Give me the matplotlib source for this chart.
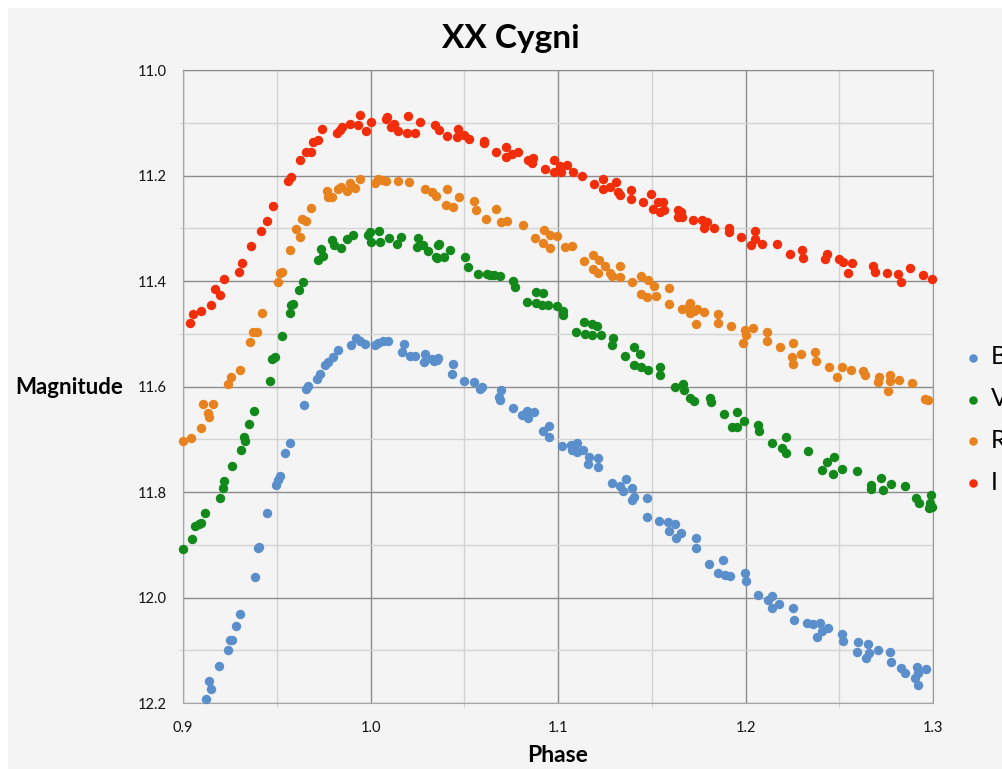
import matplotlib
matplotlib.use("Agg")
from matplotlib import pyplot as plt
from matplotlib.ticker import MultipleLocator, FormatStrFormatter
from matplotlib.patches import Rectangle

# phase / magnitude
b_phase = [0.9125, 0.9148, 0.9137, 0.919, 0.924, 0.9249, 0.9262, 0.9281, 0.9306, 0.9383,
           0.9400, 0.9406, 0.9447, 0.9495, 0.9504, 0.9516, 0.9543, 0.957, 0.9646, 0.9658,
           0.9667, 0.9712, 0.9730, 0.9756, 0.9774, 0.9801, 0.9827, 0.9898, 0.9922, 0.9943,
           0.997, 1.0023, 1.0041, 1.0068, 1.0094, 1.018, 1.0169, 1.0209, 1.0237, 1.029,
           1.0287, 1.0326, 1.0358, 1.0337, 1.0355, 1.044, 1.0434, 1.0496, 1.055, 1.0585,
           1.0594, 1.0695, 1.0683, 1.0691, 1.0762, 1.0807, 1.0837, 1.0842, 1.0872, 1.0922,
           1.0954, 1.0954, 1.1023, 1.1067, 1.1073, 1.1103, 1.1099, 1.1135, 1.1167, 1.1158,
           1.1215, 1.1216, 1.1286, 1.1330, 1.1362, 1.1348, 1.1397, 1.1404, 1.1392, 1.1477,
           1.1477, 1.1539, 1.1587, 1.1622, 1.1592, 1.1631, 1.1658, 1.1738, 1.1738, 1.1807,
           1.1879, 1.1851, 1.1892, 1.1918, 1.1998, 1.2002, 1.2069, 1.2122, 1.214, 1.214,
           1.2181, 1.2255, 1.2261, 1.2330, 1.2362, 1.2397, 1.2379, 1.2406, 1.2441, 1.2516,
           1.2518, 1.2601, 1.2592, 1.2642, 1.2654, 1.2660, 1.2704, 1.277, 1.2778, 1.2832,
           1.2853, 1.2902, 1.2917, 1.2920, 1.2920, 1.2965]
b_mag = [12.192, 12.173, 12.158, 12.130, 12.099, 12.081, 12.081, 12.054, 12.031, 11.962,
         11.907, 11.905, 11.839, 11.787, 11.777, 11.770, 11.727, 11.708, 11.636, 11.604,
         11.599, 11.586, 11.576, 11.559, 11.554, 11.544, 11.530, 11.521, 11.509, 11.513,
         11.519, 11.522, 11.517, 11.514, 11.514, 11.519, 11.534, 11.542, 11.542, 11.538,
         11.553, 11.547, 11.546, 11.551, 11.549, 11.557, 11.576, 11.589, 11.592, 11.605,
         11.600, 11.606, 11.619, 11.625, 11.640, 11.654, 11.646, 11.659, 11.649, 11.685,
         11.674, 11.695, 11.712, 11.710, 11.720, 11.708, 11.725, 11.720, 11.733, 11.747,
         11.735, 11.752, 11.782, 11.788, 11.776, 11.798, 11.792, 11.809, 11.815, 11.812,
         11.848, 11.855, 11.856, 11.861, 11.874, 11.887, 11.877, 11.888, 11.907, 11.937,
         11.929, 11.953, 11.958, 11.959, 11.954, 11.969, 11.996, 12.005, 11.997, 12.020,
         12.013, 12.020, 12.043, 12.049, 12.051, 12.049, 12.075, 12.064, 12.058, 12.070,
         12.083, 12.085, 12.103, 12.115, 12.088, 12.106, 12.100, 12.103, 12.122, 12.134,
         12.144, 12.152, 12.131, 12.144, 12.166, 12.135]

v_phase = [0.9, 0.905, 0.9062, 0.9085, 0.9098, 0.9116, 0.9196, 0.9214, 0.9219, 0.9263,
           0.9311, 0.9329, 0.9326, 0.9351, 0.9379, 0.9464, 0.9477, 0.949, 0.9529, 0.957,
           0.9578, 0.9587, 0.9617, 0.964, 0.972, 0.9735, 0.9747, 0.9792, 0.9806, 0.9841,
           0.9872, 0.9907, 0.9984, 0.9996, 1.0005, 1.0044, 1.005, 1.0098, 1.0139, 1.0162,
           1.0251, 1.0246, 1.0281, 1.0308, 1.0358, 1.0352, 1.0363, 1.0354, 1.0394, 1.0426,
           1.0505, 1.0518, 1.0571, 1.0621, 1.0635, 1.0656, 1.0688, 1.0762, 1.0771, 1.0833,
           1.0883, 1.0918, 1.0883, 1.0913, 1.0949, 1.0993, 1.1025, 1.1028, 1.1096, 1.1138,
           1.1144, 1.1179, 1.1179, 1.1209, 1.1232, 1.1291, 1.1287, 1.136, 1.1404, 1.1404,
           1.1436, 1.1445, 1.148, 1.1546, 1.1546, 1.1622, 1.1667, 1.167, 1.1706, 1.1723,
           1.1809, 1.1816, 1.1883, 1.1927, 1.1957, 1.1957, 1.1993, 1.2069, 1.2074, 1.214,
           1.2216, 1.2193, 1.2216, 1.2332, 1.2406, 1.2436, 1.2472, 1.2468, 1.2516, 1.2592,
           1.2667, 1.2667, 1.2725, 1.2734, 1.2775, 1.2849, 1.2911, 1.2926, 1.2991, 1.2986,
           1.2979, 1.2996]
v_mag = [11.908, 11.889, 11.864, 11.861, 11.858, 11.839, 11.811, 11.792, 11.779, 11.751,
         11.720, 11.703, 11.695, 11.671, 11.646, 11.589, 11.548, 11.545, 11.505, 11.460,
         11.446, 11.443, 11.418, 11.402, 11.361, 11.340, 11.353, 11.323, 11.331, 11.338,
         11.320, 11.313, 11.312, 11.307, 11.326, 11.306, 11.326, 11.318, 11.329, 11.316,
         11.318, 11.335, 11.332, 11.344, 11.331, 11.355, 11.329, 11.356, 11.354, 11.342,
         11.354, 11.373, 11.386, 11.386, 11.389, 11.388, 11.390, 11.400, 11.411, 11.439,
         11.421, 11.423, 11.441, 11.445, 11.445, 11.448, 11.456, 11.464, 11.497, 11.477,
         11.500, 11.481, 11.502, 11.486, 11.503, 11.509, 11.522, 11.543, 11.526, 11.560,
         11.539, 11.563, 11.569, 11.563, 11.579, 11.600, 11.595, 11.606, 11.622, 11.627,
         11.621, 11.630, 11.653, 11.676, 11.649, 11.676, 11.665, 11.673, 11.684, 11.708,
         11.695, 11.717, 11.727, 11.722, 11.758, 11.744, 11.733, 11.765, 11.757, 11.760,
         11.787, 11.794, 11.773, 11.796, 11.785, 11.789, 11.812, 11.820, 11.806, 11.820,
         11.830, 11.828]

r_phase = [0.9, 0.9044, 0.9094, 0.9107, 0.916, 0.9133, 0.9139, 0.924, 0.9258, 0.9306,
           0.9356, 0.9374, 0.9397, 0.9422, 0.9504, 0.9516, 0.9528, 0.957, 0.9605, 0.9623,
           0.9632, 0.9658, 0.9685, 0.977, 0.9774, 0.9792, 0.9827, 0.9845, 0.9877, 0.989,
           0.9916, 0.9943, 1.0023, 1.0041, 1.0059, 1.0085, 1.0148, 1.0205, 1.029, 1.0326,
           1.0351, 1.0408, 1.0404, 1.044, 1.047, 1.0553, 1.0564, 1.0617, 1.0668, 1.0695,
           1.073, 1.0812, 1.0878, 1.0926, 1.0922, 1.0957, 1.0957, 1.0993, 1.1037, 1.1073,
           1.1138, 1.1184, 1.1188, 1.122, 1.125, 1.1215, 1.1277, 1.1286, 1.133, 1.1333,
           1.1397, 1.1445, 1.148, 1.151, 1.1445, 1.1472, 1.1525, 1.1592, 1.1592, 1.1661,
           1.1699, 1.1702, 1.1706, 1.1723, 1.1741, 1.1777, 1.1738, 1.1853, 1.1853, 1.1922,
           1.1998, 1.2039, 1.2004, 1.1986, 1.2113, 1.2117, 1.2184, 1.2255, 1.2246, 1.2255,
           1.2294, 1.2371, 1.2376, 1.2447, 1.2486, 1.2512, 1.256, 1.2628, 1.2637, 1.2713,
           1.2707, 1.2770, 1.2773, 1.2819, 1.289, 1.2761, 1.2956, 1.2973]
r_mag = [11.703, 11.698, 11.678, 11.633, 11.633, 11.651, 11.658, 11.595, 11.582, 11.568,
         11.515, 11.497, 11.497, 11.460, 11.402, 11.384, 11.382, 11.342, 11.301, 11.316,
         11.282, 11.287, 11.261, 11.230, 11.241, 11.241, 11.226, 11.222, 11.230, 11.215,
         11.223, 11.207, 11.215, 11.207, 11.209, 11.211, 11.211, 11.212, 11.226, 11.231,
         11.239, 11.226, 11.255, 11.260, 11.241, 11.249, 11.266, 11.282, 11.263, 11.289,
         11.286, 11.294, 11.318, 11.304, 11.328, 11.313, 11.337, 11.315, 11.335, 11.334,
         11.363, 11.350, 11.377, 11.361, 11.371, 11.385, 11.385, 11.391, 11.372, 11.393,
         11.401, 11.390, 11.399, 11.410, 11.424, 11.430, 11.428, 11.413, 11.443, 11.453,
         11.447, 11.461, 11.441, 11.456, 11.454, 11.459, 11.481, 11.463, 11.480, 11.486,
         11.492, 11.490, 11.502, 11.517, 11.496, 11.514, 11.525, 11.517, 11.544, 11.557,
         11.538, 11.534, 11.551, 11.563, 11.582, 11.563, 11.568, 11.570, 11.578, 11.582,
         11.592, 11.578, 11.590, 11.587, 11.593, 11.609, 11.623, 11.625]

i_phase = [0.9036, 0.9053, 0.9098, 0.9151, 0.917, 0.9196, 0.9217, 0.9297, 0.9317, 0.9361,
           0.9415, 0.945, 0.948, 0.956, 0.9578, 0.9626, 0.9655, 0.968, 0.9694, 0.9718,
           0.9743, 0.9819, 0.9837, 0.985, 0.989, 0.9934, 0.9943, 0.9975, 1.0, 1.008,
           1.009, 1.011, 1.0128, 1.0146, 1.02, 1.0197, 1.0237, 1.0263, 1.0343, 1.0364,
           1.0408, 1.0465, 1.0461, 1.0496, 1.0523, 1.0603, 1.0606, 1.067, 1.0723, 1.0723,
           1.0753, 1.0785, 1.0842, 1.0865, 1.086, 1.0931, 1.0979, 1.0979, 1.1011, 1.1014,
           1.1046, 1.1078, 1.1128, 1.1193, 1.1241, 1.1241, 1.1277, 1.1307, 1.1321, 1.133,
           1.1387, 1.1387, 1.1454, 1.1498, 1.1504, 1.1534, 1.1543, 1.156, 1.1565, 1.164,
           1.1642, 1.1656, 1.166, 1.172, 1.1768, 1.1777, 1.1794, 1.183, 1.191, 1.191,
           1.1977, 1.2028, 1.2051, 1.2051, 1.2087, 1.2167, 1.2238, 1.23, 1.2309, 1.2424,
           1.2433, 1.25, 1.2521, 1.2566, 1.2548, 1.2681, 1.269, 1.2755, 1.2814, 1.2828,
           1.2876, 1.2947, 1.2996]
i_mag = [11.479, 11.462, 11.456, 11.446, 11.416, 11.427, 11.397, 11.383, 11.365, 11.334,
         11.306, 11.286, 11.258, 11.211, 11.203, 11.171, 11.155, 11.156, 11.137, 11.133,
         11.111, 11.120, 11.114, 11.108, 11.103, 11.104, 11.085, 11.115, 11.098, 11.092,
         11.089, 11.108, 11.103, 11.115, 11.087, 11.120, 11.120, 11.099, 11.104, 11.114,
         11.125, 11.111, 11.127, 11.123, 11.131, 11.135, 11.139, 11.155, 11.146, 11.164,
         11.160, 11.156, 11.171, 11.166, 11.177, 11.188, 11.171, 11.194, 11.182, 11.194,
         11.180, 11.193, 11.201, 11.216, 11.206, 11.225, 11.222, 11.212, 11.231, 11.237,
         11.228, 11.244, 11.250, 11.236, 11.264, 11.250, 11.269, 11.250, 11.266, 11.266,
         11.278, 11.269, 11.278, 11.285, 11.285, 11.300, 11.288, 11.299, 11.300, 11.307,
         11.316, 11.331, 11.305, 11.320, 11.329, 11.329, 11.348, 11.342, 11.356, 11.358,
         11.349, 11.359, 11.364, 11.365, 11.384, 11.372, 11.382, 11.384, 11.386, 11.402,
         11.375, 11.388, 11.397]

series = [("B", b_phase, b_mag, "#5b8fcb"),
          ("V", v_phase, v_mag, "#12891a"),
          ("R", r_phase, r_mag, "#e8821e"),
          ("I", i_phase, i_mag, "#f22d0a")]

plt.rcParams['font.family'] = ['Lato', 'DejaVu Sans']
bg = '#f4f4f4'

fig = plt.figure(figsize=(10.02, 7.69), dpi=100, facecolor='white')
fig.patches.append(Rectangle((8 / 1002, 0), 1, 1 - 8 / 769, transform=fig.transFigure,
                             facecolor=bg, edgecolor='none', zorder=-10))
ax = fig.add_axes([183 / 1002, 1 - 703 / 769, 750 / 1002, 633 / 769])
ax.set_facecolor(bg)

for name, x, y, c in series:
    ax.scatter(x, y, s=46, color=c, linewidths=0, label=name, clip_on=False, zorder=3)

ax.set_xlim(0.9, 1.3)
ax.set_ylim(12.2, 11.0)
ax.xaxis.set_major_locator(MultipleLocator(0.1))
ax.xaxis.set_minor_locator(MultipleLocator(0.05))
ax.yaxis.set_major_locator(MultipleLocator(0.2))
ax.yaxis.set_minor_locator(MultipleLocator(0.1))
ax.xaxis.set_major_formatter(FormatStrFormatter('%.1f'))
ax.yaxis.set_major_formatter(FormatStrFormatter('%.1f'))
ax.grid(which='major', color='#8c8c8c', lw=1)
ax.grid(which='minor', color='#d3d3d3', lw=1)
ax.set_axisbelow(True)
ax.tick_params(axis='both', which='major', length=0, labelsize=10.5, labelcolor='#111111')
ax.tick_params(axis='x', which='major', pad=13)
ax.tick_params(axis='y', which='major', pad=12)
ax.tick_params(which='minor', length=3, color='#c8c8c8', direction='out')
for side in ['left', 'bottom']:
    ax.spines[side].set_color('#a6a6a6')
ax.spines['top'].set_color('#8c8c8c')
ax.spines['right'].set_color('#9a9a9a')

fig.text(511 / 1002, 1 - 48 / 769, 'XX Cygni', fontsize=24, fontweight='bold',
         ha='center', va='baseline')
fig.text(15 / 1002, 1 - 387 / 769, 'Magnitude', fontsize=16, fontweight='bold',
         ha='left', va='center')
fig.text(558 / 1002, 1 - 756 / 769, 'Phase', fontsize=16.5, fontweight='bold',
         ha='center', va='center')

# legend sits past the right edge, as in the source image
fig.legend(loc='center left', bbox_to_anchor=(963 / 1002, 1 - 419.5 / 769), frameon=False,
           fontsize=18, handlelength=0.8, handletextpad=0.32, labelspacing=0.75,
           borderpad=0, borderaxespad=0, markerscale=0.9)

plt.savefig('out.png', dpi=100, facecolor='white')
